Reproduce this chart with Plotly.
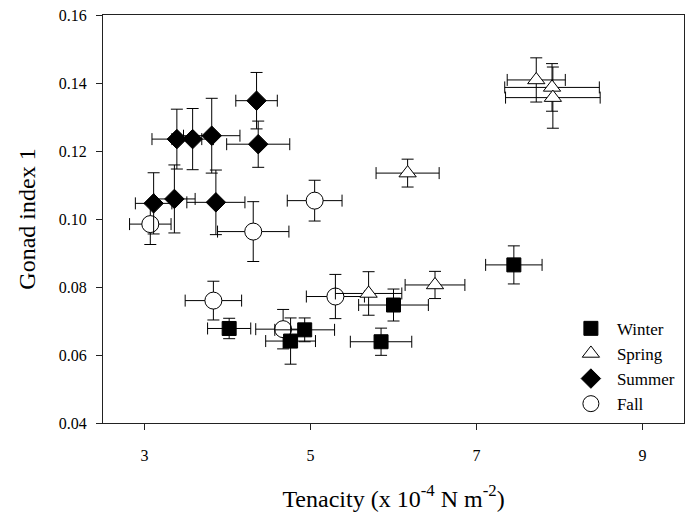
import plotly.graph_objects as go

# Winter (filled squares)
winter_x = [4.02, 4.76, 4.93, 5.85, 6.00, 7.45]
winter_y = [0.0678, 0.0641, 0.0674, 0.0639, 0.0747, 0.0865]
winter_xerr = [0.26, 0.30, 0.36, 0.37, 0.42, 0.34]
winter_yerr = [0.0030, 0.0068, 0.0035, 0.0040, 0.0047, 0.0056]

# Spring (open triangles)
spring_x = [5.70, 6.50, 6.17, 7.72, 7.91, 7.92]
spring_y = [0.0781, 0.0806, 0.1135, 0.1409, 0.1387, 0.1357]
spring_xerr = [0.40, 0.36, 0.38, 0.35, 0.57, 0.57]
spring_yerr = [0.0064, 0.0040, 0.0041, 0.0065, 0.0070, 0.0090]

# Summer (filled diamonds)
summer_x = [3.11, 3.36, 3.86, 3.39, 3.58, 3.81, 4.37, 4.35]
summer_y = [0.1046, 0.1059, 0.1049, 0.1235, 0.1235, 0.1245, 0.1220, 0.1348]
summer_xerr = [0.22, 0.25, 0.35, 0.30, 0.25, 0.34, 0.38, 0.25]
summer_yerr = [0.0090, 0.0100, 0.0095, 0.0088, 0.0090, 0.0110, 0.0068, 0.0083]

# Fall (open circles)
fall_x = [3.07, 4.31, 5.05, 3.83, 5.30, 4.67]
fall_y = [0.0985, 0.0963, 0.1054, 0.0760, 0.0772, 0.0676]
fall_xerr = [0.25, 0.43, 0.33, 0.34, 0.35, 0.33]
fall_yerr = [0.0060, 0.0088, 0.0060, 0.0057, 0.0065, 0.0058]

x_ticks = [3, 5, 7, 9]
y_ticks = [0.04, 0.06, 0.08, 0.10, 0.12, 0.14, 0.16]

FONT = "Liberation Serif"

series = [
    ("Fall", fall_x, fall_y, fall_xerr, fall_yerr, "circle", "white", 17),
    ("Spring", spring_x, spring_y, spring_xerr, spring_yerr, "triangle-up", "white", 15),
    ("Summer", summer_x, summer_y, summer_xerr, summer_yerr, "diamond", "black", 15),
    ("Winter", winter_x, winter_y, winter_xerr, winter_yerr, "square", "black", 14),
]

fig = go.Figure()
for name, xs, ys, xe, ye, sym, fill, size in series:
    fig.add_trace(go.Scatter(
        x=xs, y=ys, mode="markers", name=name, showlegend=False,
        marker=dict(symbol=sym, color=fill, size=size,
                    line=dict(color="black", width=1)),
        error_x=dict(type="data", array=xe, visible=True, color="black",
                     thickness=1, width=6),
        error_y=dict(type="data", array=ye, visible=True, color="black",
                     thickness=1, width=6),
    ))

legend_order = ["Winter", "Spring", "Summer", "Fall"]
lookup = {s[0]: s for s in series}
for name in legend_order:
    _, _, _, _, _, sym, fill, size = lookup[name]
    fig.add_trace(go.Scatter(
        x=[None], y=[None], mode="markers", name=name,
        marker=dict(symbol=sym, color=fill, size=size,
                    line=dict(color="black", width=1)),
    ))

fig.update_layout(
    width=691, height=522,
    margin=dict(l=103, r=7, t=15, b=99),
    paper_bgcolor="white", plot_bgcolor="white",
    font=dict(family=FONT, color="black", size=15),
    legend=dict(x=0.795, y=0.275, xanchor="left", yanchor="top",
                bgcolor="rgba(0,0,0,0)", font=dict(size=17, family=FONT, color="black"),
                itemwidth=42, tracegroupgap=0),
    showlegend=True,
)
fig.update_xaxes(
    range=[2.5, 9.5], tickvals=x_ticks, ticktext=[str(v) for v in x_ticks],
    showgrid=False, zeroline=False, showline=True, linecolor="#222",
    linewidth=1, mirror=True, ticks="outside", ticklen=6, tickcolor="#222",
    ticklabelstandoff=12, tickfont=dict(size=16, family=FONT, color="black"),
    title=dict(text="Tenacity (x 10<sup>-4</sup> N m<sup>-2</sup>)",
               font=dict(size=24, family=FONT, color="black"), standoff=26),
)
fig.update_yaxes(
    range=[0.04, 0.16], tickvals=y_ticks, ticktext=[f"{v:.2f}" for v in y_ticks],
    showgrid=False, zeroline=False, showline=True, linecolor="#222",
    linewidth=1, mirror=True, ticks="outside", ticklen=6, tickcolor="#222",
    ticklabelstandoff=6, tickfont=dict(size=16, family=FONT, color="black"),
    title=dict(text="Gonad index 1", font=dict(size=24, family=FONT, color="black"),
               standoff=16),
)

fig.write_html("out.html")
